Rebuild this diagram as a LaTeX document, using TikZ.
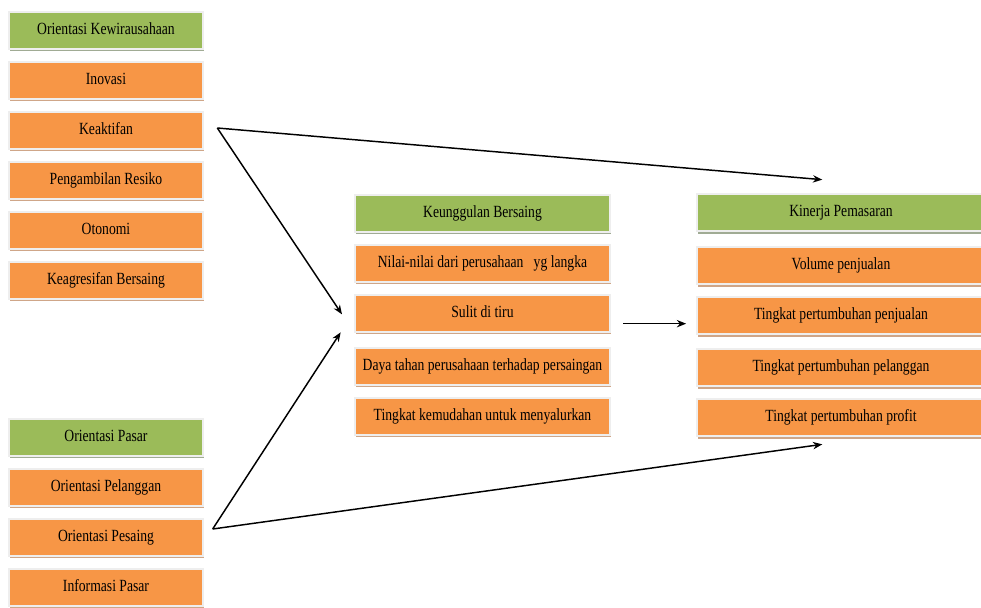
\documentclass[tikz,border=0pt]{standalone}
\usepackage{fontspec}
\newfontfamily\boxfont[FakeStretch=0.8]{Liberation Serif}
\usepackage{tikz}
\usetikzlibrary{arrows.meta, positioning, shadows}

\definecolor{accOrange}{HTML}{F79646}
\definecolor{accGreen}{HTML}{9BBB59}
\definecolor{shadeOrange}{HTML}{CFA688}
\definecolor{shadeGreen}{HTML}{A0AB94}
\definecolor{frameGray}{HTML}{EEEEEE}

\begin{document}
\begin{tikzpicture}[
  x=0.75pt, y=-0.75pt,
  node distance = 8.25pt,
  box/.style  = {draw=frameGray, line width=1.5pt, inner sep=0pt, align=center,
                 text=black, font=\boxfont\fontsize{12.8}{14}\selectfont,
                 text height=8.6pt, text depth=2.6pt, minimum height=27.75pt},
  item/.style = {box, fill=accOrange, drop shadow={shadow xshift=0.8pt,
                 shadow yshift=-2pt, fill=shadeOrange, opacity=1}},
  head/.style = {box, fill=accGreen, drop shadow={shadow xshift=0.8pt,
                 shadow yshift=-2pt, fill=shadeGreen, opacity=1}},
  lcol/.style = {minimum width=145.5pt},
  mcol/.style = {minimum width=191.25pt},
  rcol/.style = {minimum width=216.75pt},
  arrow/.style = {-{Stealth[length=7pt, width=5.5pt]}, line width=1.1pt}
]
  \path[use as bounding box, clip] (0,0) rectangle (981,607);

  % orientasi kewirausahaan
  \node[head, lcol] at (106,30) (kewira) {Orientasi Kewirausahaan};
  \node[item, lcol, below=of kewira]  (inovasi)   {Inovasi};
  \node[item, lcol, below=of inovasi] (keaktifan) {Keaktifan};
  \node[item, lcol, below=of keaktifan] (resiko)  {Pengambilan Resiko};
  \node[item, lcol, below=of resiko]  (otonomi)   {Otonomi};
  \node[item, lcol, below=of otonomi] (agresif)   {Keagresifan Bersaing};

  % orientasi pasar
  \node[head, lcol] at (106,437) (pasar) {Orientasi Pasar};
  \node[item, lcol, below=of pasar]     (pelanggan) {Orientasi Pelanggan};
  \node[item, lcol, below=of pelanggan] (pesaing)   {Orientasi Pesaing};
  \node[item, lcol, below=of pesaing]   (informasi) {Informasi Pasar};

  % keunggulan bersaing
  \node[head, mcol] at (482.5,213) (unggul) {Keunggulan Bersaing};
  \node[item, mcol, below=of unggul] (nilai) {Nilai-nilai dari perusahaan\ \ \ yg langka};
  \node[item, mcol, below=of nilai]  (sulit) {Sulit di tiru};
  \node[item, mcol, below=10.5pt of sulit] (daya) {Daya tahan perusahaan terhadap persaingan};
  \node[item, mcol, below=of daya]   (mudah) {Tingkat kemudahan untuk menyalurkan};

  % kinerja pemasaran
  \node[head, rcol] at (841,212.5) (kinerja) {Kinerja Pemasaran};
  \node[item, rcol, below=10.5pt of kinerja] (volume) {Volume penjualan};
  \node[item, rcol, below=of volume]    (tumbJual)   {Tingkat pertumbuhan penjualan};
  \node[item, rcol, below=9.75pt of tumbJual] (tumbPlg) {Tingkat pertumbuhan pelanggan};
  \node[item, rcol, below=of tumbPlg]   (tumbProfit) {Tingkat pertumbuhan profit};

  % connector points
  \coordinate[right=10pt of keaktifan.east, yshift=1.5pt] (forkTop);
  \coordinate[right=6.5pt of pesaing.east, yshift=6pt]    (forkBot);
  \coordinate (kinIn)  at ([shift={(-14pt,10pt)}]kinerja.north);
  \coordinate (profIn) at ([shift={(-14pt,-5.5pt)}]tumbProfit.south);
  \coordinate (sulIn1) at ([shift={(-9pt,-1pt)}]sulit.west);
  \coordinate (sulIn2) at ([shift={(-10pt,-14.5pt)}]sulit.west);
  \coordinate (midOut) at ([shift={(9pt,-8pt)}]sulit.east);
  \coordinate (midIn)  at ([xshift=-7pt]tumbJual.west);

  \draw[arrow] (forkTop) -- (kinIn);
  \draw[arrow] (forkTop) -- (sulIn1);
  \draw[arrow] (forkBot) -- (sulIn2);
  \draw[arrow] (forkBot) -- (profIn);
  \draw[arrow] (midOut) -- (midOut -| midIn);
\end{tikzpicture}
\end{document}
